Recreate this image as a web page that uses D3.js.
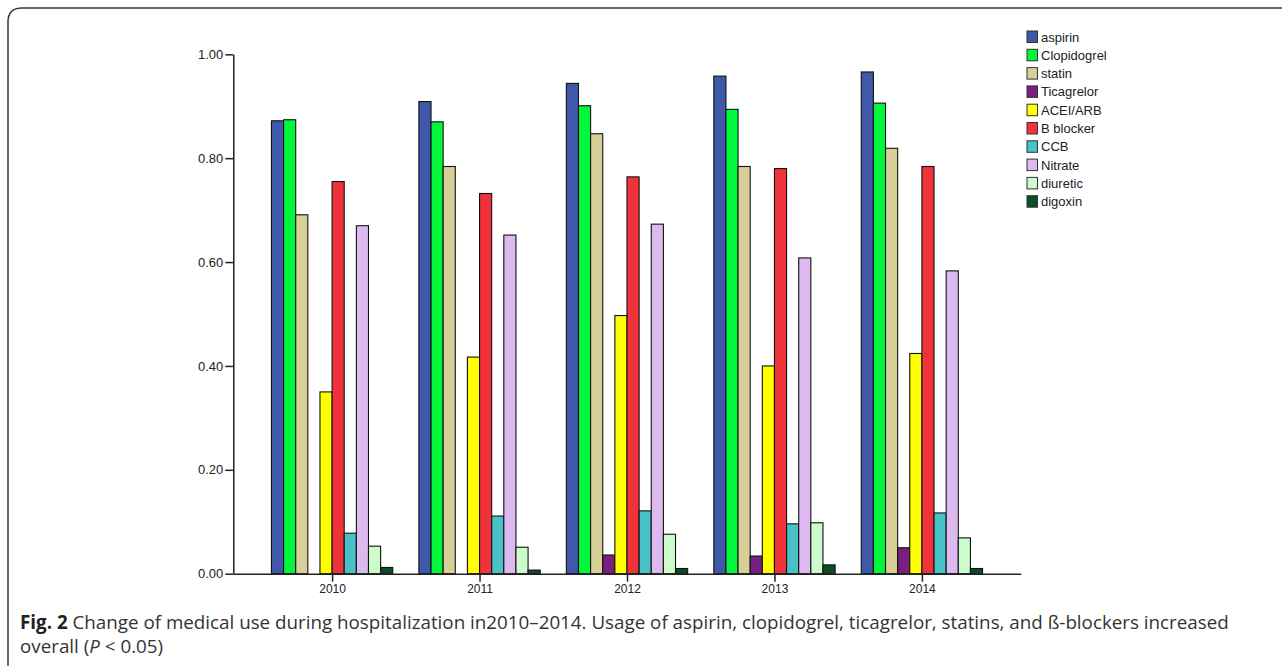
<!DOCTYPE html>
<html>
<head>
<meta charset="utf-8">
<script src="https://cdn.jsdelivr.net/npm/d3@7"></script>
<style>
  body { margin: 0; background: #fff; }
  svg { display: block; }
</style>
</head>
<body>
<svg id="chart" width="1282" height="666"></svg>
<script>
// years on the x axis
const years = ['2010', '2011', '2012', '2013', '2014'];

// drugs, in legend / bar order
const drugs = [
  'aspirin', 'Clopidogrel', 'statin', 'Ticagrelor', 'ACEI/ARB',
  'B blocker', 'CCB', 'Nitrate', 'diuretic', 'digoxin',
];

const drugColors = [
  '#3f58a9', '#00f73c', '#d6cf98', '#7a1e80', '#ffff00',
  '#f0323a', '#48c2c7', '#dcb9ee', '#ccfccc', '#0b4d25',
];

// usage rate per year, one array per drug
const aspirin = [0.872, 0.909, 0.944, 0.958, 0.966];
const clopidogrel = [0.874, 0.870, 0.901, 0.894, 0.906];
const statin = [0.691, 0.784, 0.847, 0.784, 0.819];
const ticagrelor = [0, 0, 0.036, 0.034, 0.050];
const acei = [0.350, 0.417, 0.497, 0.400, 0.424];
const bBlocker = [0.755, 0.732, 0.764, 0.780, 0.784];
const ccb = [0.078, 0.111, 0.121, 0.096, 0.117];
const nitrate = [0.670, 0.652, 0.673, 0.608, 0.583];
const diuretic = [0.053, 0.051, 0.076, 0.098, 0.069];
const digoxin = [0.012, 0.007, 0.010, 0.017, 0.010];

const series = [
  aspirin, clopidogrel, statin, ticagrelor, acei,
  bBlocker, ccb, nitrate, diuretic, digoxin,
];

const yTicks = [0, 0.2, 0.4, 0.6, 0.8, 1.0];

const svg = d3.select('#chart');
const font = '"Liberation Sans", Arial, sans-serif';

// figure frame (rounded top-left corner, open on the right)
svg.append('path')
  .attr('d', 'M8,666 L8,22 Q8,8 22,8 L1282,8')
  .attr('fill', 'none')
  .attr('stroke', '#3a3a3a')
  .attr('stroke-width', 1.5);

const plotLeft = 233.3;
const plotRight = 1020.7;
const plotTop = 54.3;
const plotBottom = 573.7;

const y = d3.scaleLinear().domain([0, 1]).range([plotBottom, plotTop]);

const x = d3.scalePoint()
  .domain(years)
  .range([plotLeft, plotRight])
  .padding(0.67);

const groupWidth = 121.3;
const xInner = d3.scaleBand()
  .domain(drugs)
  .range([-groupWidth / 2, groupWidth / 2])
  .padding(0);

// bars
const groups = svg.append('g')
  .selectAll('g')
  .data(years)
  .join('g')
  .attr('transform', (d) => `translate(${x(d)},0)`);

groups.selectAll('rect')
  .data((year, yi) =>
    drugs
      .map((drug, di) => ({ drug, di, value: series[di][yi] }))
      .filter((d) => d.value > 0)
  )
  .join('rect')
  .attr('x', (d) => xInner(d.drug))
  .attr('width', xInner.bandwidth())
  .attr('y', (d) => y(d.value))
  .attr('height', (d) => plotBottom - y(d.value))
  .attr('fill', (d) => drugColors[d.di])
  .attr('stroke', '#111')
  .attr('stroke-width', 1.1);

// y axis
const yAxis = svg.append('g')
  .attr('transform', `translate(${plotLeft},0)`)
  .call(d3.axisLeft(y).tickValues(yTicks).tickFormat(d3.format('.2f')).tickSize(8).tickSizeOuter(0));

// x axis
const xAxis = svg.append('g')
  .attr('transform', `translate(0,${plotBottom})`)
  .call(d3.axisBottom(x).tickSize(8).tickSizeOuter(0));

[yAxis, xAxis].forEach((axis) => {
  axis.select('.domain').attr('stroke', '#222').attr('stroke-width', 1.5);
  axis.selectAll('.tick line').attr('stroke', '#222').attr('stroke-width', 1.5);
  axis.selectAll('.tick text')
    .attr('fill', '#222')
    .style('font-family', font);
});
yAxis.selectAll('.tick text').attr('x', -10).style('font-size', '13px');
xAxis.selectAll('.tick text').attr('y', 11).style('font-size', '12px');

// legend
const legend = svg.append('g')
  .attr('transform', 'translate(1027,31)');

const legendItems = legend.selectAll('g')
  .data(drugs)
  .join('g')
  .attr('transform', (d, i) => `translate(0,${i * 18.3})`);

legendItems.append('rect')
  .attr('width', 10.5)
  .attr('height', 11.5)
  .attr('fill', (d, i) => drugColors[i])
  .attr('stroke', '#333')
  .attr('stroke-width', 1);

legendItems.append('text')
  .attr('x', 14)
  .attr('y', 10.5)
  .style('font-family', font)
  .style('font-size', '13px')
  .attr('fill', '#222')
  .text((d) => d);

// caption
const captionFont = '"Open Sans", "Noto Sans", sans-serif';
const line1 = svg.append('text')
  .attr('x', 20)
  .attr('y', 629)
  .style('font-family', captionFont)
  .style('font-size', '18.8px')
  .attr('fill', '#333');
line1.append('tspan').style('font-weight', 'bold').attr('fill', '#222').text('Fig. 2');
line1.append('tspan').text(' Change of medical use during hospitalization in2010–2014. Usage of aspirin, clopidogrel, ticagrelor, statins, and ß-blockers increased');

const line2 = svg.append('text')
  .attr('x', 20)
  .attr('y', 653)
  .style('font-family', captionFont)
  .style('font-size', '18.8px')
  .attr('fill', '#333');
line2.append('tspan').text('overall (');
line2.append('tspan').style('font-style', 'italic').text('P');
line2.append('tspan').text(' < 0.05)');
</script>
</body>
</html>
